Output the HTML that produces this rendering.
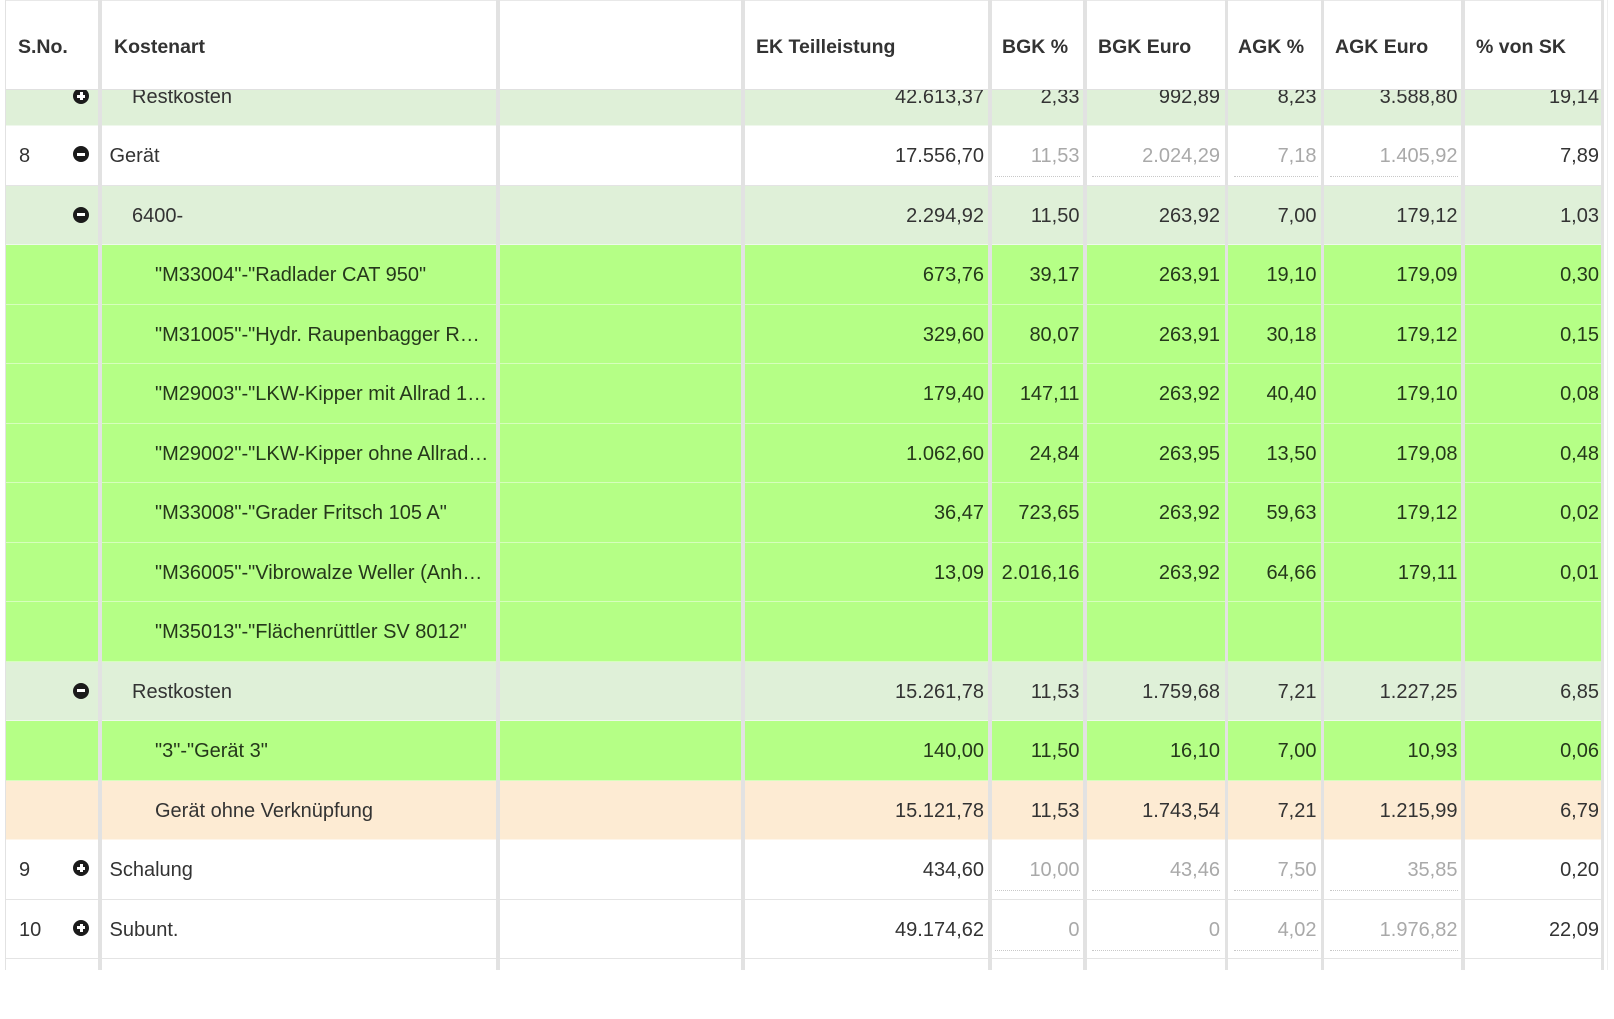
<!DOCTYPE html>
<html><head><meta charset="utf-8"><style>
*{box-sizing:border-box}
body{margin:0;width:1614px;height:970px;overflow:hidden;background:#fff;font-family:"Liberation Sans",Arial,sans-serif;position:relative}
.r{position:absolute;left:0;width:1601px;height:59.5px;border-bottom:1px solid #e4e4e4;background:#fff}
.lg{background:#dff0d8;border-bottom-color:rgba(255,255,255,.5)}
.bg{background:#b5ff86;border-bottom-color:rgba(255,255,255,.45)}
.bg .t{color:#25381b}
.pe{background:#fdebd3;border-bottom-color:rgba(255,255,255,.5)}
.t{position:absolute;top:0;height:59.5px;line-height:59.5px;padding-top:1px;font-size:20px;color:#333;white-space:nowrap}
.ra .t{top:0}
.sn{left:19px}
.k0{left:109.5px}.k1{left:132px}.k2{left:155px;max-width:341px;overflow:hidden}
.n3{right:617px}.n4{right:521.5px}.n5{right:381px}.n6{right:284.5px}.n7{right:143.5px}.n8{right:2px}
.g{color:#a9a9a9}
.d{position:absolute;top:50px;height:0;border-top:1px dotted #c8c8c8}
.d4{left:995px;width:85px}.d5{left:1092px;width:128px}.d6{left:1234px;width:84px}.d7{left:1330px;width:128px}
.ic{position:absolute;left:73px;top:20px;width:16px;height:16px;border-radius:50%;background:#1b1b1b}
.lg .ic{top:21px}
.ra .ic{top:21.5px}
.ic::before{content:"";position:absolute;left:4px;top:6.5px;width:8px;height:3px;background:#fff}
.ic.p::after{content:"";position:absolute;left:6.5px;top:4px;width:3px;height:8px;background:#fff}
.hd{position:absolute;left:0;top:0;width:1604px;height:90px;background:#fff;z-index:2;border-top:1px solid #e8e8e8;border-bottom:1px solid #e0e0e0}
.h{position:absolute;top:1px;line-height:90px;font-size:19.5px;font-weight:bold;color:#333;white-space:nowrap}
.sep{position:absolute;top:0;height:970px;width:3.5px;background:#e2e2e2;z-index:3}
.lb{position:absolute;left:0;top:0;height:970px;background:#fff;border-right:1px solid #e2e2e2;z-index:4;width:6px}
.rb{position:absolute;left:1607px;top:0;width:1px;height:970px;background:#eeeeee;z-index:3}
</style></head><body>

<div class="hd">
<div class="h" style="left:18px">S.No.</div>
<div class="h" style="left:114px">Kostenart</div>
<div class="h" style="left:756px">EK Teilleistung</div>
<div class="h" style="left:1002px">BGK %</div>
<div class="h" style="left:1098px">BGK Euro</div>
<div class="h" style="left:1238px">AGK %</div>
<div class="h" style="left:1335px">AGK Euro</div>
<div class="h" style="left:1476px">% von SK</div>
</div>

<!-- partial row -->
<div class="r lg ra" style="top:66.5px">
<span class="ic p"></span>
<div class="t k1">Restkosten</div>
<div class="t n3">42.613,37</div><div class="t n4">2,33</div><div class="t n5">992,89</div><div class="t n6">8,23</div><div class="t n7">3.588,80</div><div class="t n8">19,14</div>
</div>

<div class="r" style="top:126px">
<div class="t sn">8</div><span class="ic"></span>
<div class="t k0">Gerät</div>
<div class="t n3">17.556,70</div>
<div class="t n4 g">11,53</div><div class="d d4"></div>
<div class="t n5 g">2.024,29</div><div class="d d5"></div>
<div class="t n6 g">7,18</div><div class="d d6"></div>
<div class="t n7 g">1.405,92</div><div class="d d7"></div>
<div class="t n8">7,89</div>
</div>

<div class="r lg" style="top:185.5px">
<span class="ic"></span>
<div class="t k1">6400-</div>
<div class="t n3">2.294,92</div><div class="t n4">11,50</div><div class="t n5">263,92</div><div class="t n6">7,00</div><div class="t n7">179,12</div><div class="t n8">1,03</div>
</div>

<div class="r bg" style="top:245px">
<div class="t k2">"M33004"-"Radlader CAT 950"</div>
<div class="t n3">673,76</div><div class="t n4">39,17</div><div class="t n5">263,91</div><div class="t n6">19,10</div><div class="t n7">179,09</div><div class="t n8">0,30</div>
</div>

<div class="r bg" style="top:304.5px">
<div class="t k2">"M31005"-"Hydr. Raupenbagger R…</div>
<div class="t n3">329,60</div><div class="t n4">80,07</div><div class="t n5">263,91</div><div class="t n6">30,18</div><div class="t n7">179,12</div><div class="t n8">0,15</div>
</div>

<div class="r bg" style="top:364px">
<div class="t k2">"M29003"-"LKW-Kipper mit Allrad 1…</div>
<div class="t n3">179,40</div><div class="t n4">147,11</div><div class="t n5">263,92</div><div class="t n6">40,40</div><div class="t n7">179,10</div><div class="t n8">0,08</div>
</div>

<div class="r bg" style="top:423.5px">
<div class="t k2">"M29002"-"LKW-Kipper ohne Allrad…</div>
<div class="t n3">1.062,60</div><div class="t n4">24,84</div><div class="t n5">263,95</div><div class="t n6">13,50</div><div class="t n7">179,08</div><div class="t n8">0,48</div>
</div>

<div class="r bg" style="top:483px">
<div class="t k2">"M33008"-"Grader Fritsch 105 A"</div>
<div class="t n3">36,47</div><div class="t n4">723,65</div><div class="t n5">263,92</div><div class="t n6">59,63</div><div class="t n7">179,12</div><div class="t n8">0,02</div>
</div>

<div class="r bg" style="top:542.5px">
<div class="t k2">"M36005"-"Vibrowalze Weller (Anh…</div>
<div class="t n3">13,09</div><div class="t n4">2.016,16</div><div class="t n5">263,92</div><div class="t n6">64,66</div><div class="t n7">179,11</div><div class="t n8">0,01</div>
</div>

<div class="r bg" style="top:602px">
<div class="t k2">"M35013"-"Flächenrüttler SV 8012"</div>
</div>

<div class="r lg" style="top:661.5px">
<span class="ic"></span>
<div class="t k1">Restkosten</div>
<div class="t n3">15.261,78</div><div class="t n4">11,53</div><div class="t n5">1.759,68</div><div class="t n6">7,21</div><div class="t n7">1.227,25</div><div class="t n8">6,85</div>
</div>

<div class="r bg" style="top:721px">
<div class="t k2">"3"-"Gerät 3"</div>
<div class="t n3">140,00</div><div class="t n4">11,50</div><div class="t n5">16,10</div><div class="t n6">7,00</div><div class="t n7">10,93</div><div class="t n8">0,06</div>
</div>

<div class="r pe" style="top:780.5px">
<div class="t k2">Gerät ohne Verknüpfung</div>
<div class="t n3">15.121,78</div><div class="t n4">11,53</div><div class="t n5">1.743,54</div><div class="t n6">7,21</div><div class="t n7">1.215,99</div><div class="t n8">6,79</div>
</div>

<div class="r" style="top:840px">
<div class="t sn">9</div><span class="ic p"></span>
<div class="t k0">Schalung</div>
<div class="t n3">434,60</div>
<div class="t n4 g">10,00</div><div class="d d4"></div>
<div class="t n5 g">43,46</div><div class="d d5"></div>
<div class="t n6 g">7,50</div><div class="d d6"></div>
<div class="t n7 g">35,85</div><div class="d d7"></div>
<div class="t n8">0,20</div>
</div>

<div class="r" style="top:899.5px">
<div class="t sn">10</div><span class="ic p"></span>
<div class="t k0">Subunt.</div>
<div class="t n3">49.174,62</div>
<div class="t n4 g">0</div><div class="d d4"></div>
<div class="t n5 g">0</div><div class="d d5"></div>
<div class="t n6 g">4,02</div><div class="d d6"></div>
<div class="t n7 g">1.976,82</div><div class="d d7"></div>
<div class="t n8">22,09</div>
</div>

<div class="r" style="top:959px;border-bottom:none"></div>

<div class="lb"></div>
<div class="sep" style="left:98px"></div>
<div class="sep" style="left:496px"></div>
<div class="sep" style="left:741px"></div>
<div class="sep" style="left:988px"></div>
<div class="sep" style="left:1083px"></div>
<div class="sep" style="left:1224.5px"></div>
<div class="sep" style="left:1320.5px"></div>
<div class="sep" style="left:1461px"></div>
<div class="sep" style="left:1600.5px"></div>
<div class="rb"></div>
</body></html>
